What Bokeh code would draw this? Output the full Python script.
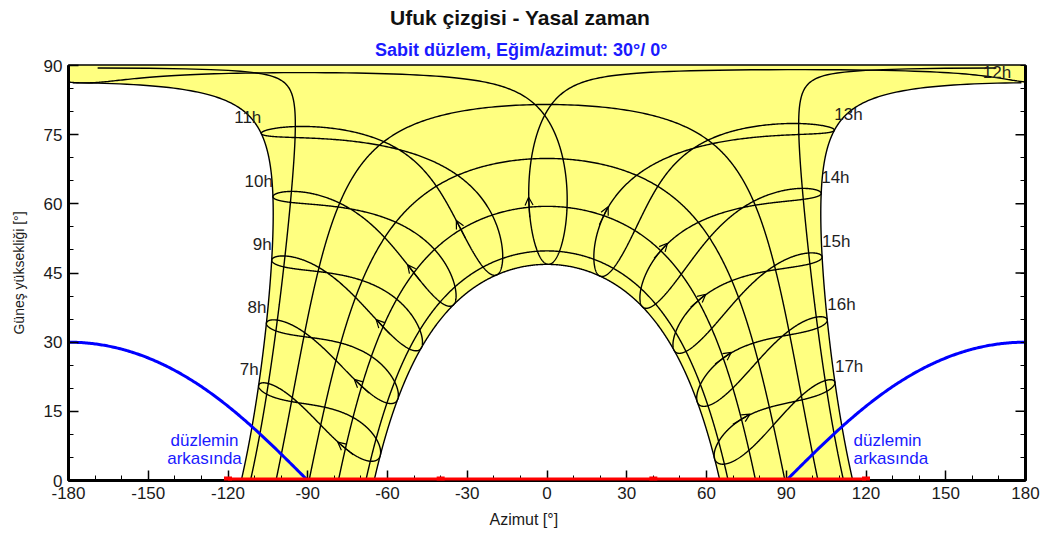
import numpy as np
from bokeh.plotting import figure
from bokeh.models import (Range1d, LinearAxis, FixedTicker, Label, Arrow, OpenHead,
                          ColumnDataSource, BoxAnnotation, Title)
from bokeh.embed import file_html
from bokeh.resources import INLINE

# Site and collector plane
LATITUDE = 19.7          # deg N
PLANE_TILT = 30.0        # deg
PLANE_AZIMUTH = 0.0      # deg, 0 = south

# Sun-path dates (day of year): 22 Jun, 22 May, 20 Apr, 20 Mar, 21 Feb, 19 Jan, 22 Dec
PATH_DAYS = [173, 142, 110, 79, 52, 19, 356]
SUMMER_DAY = 173
WINTER_DAY = 356
ARROW_DAY = 52

# Legal-time hour lines
HOURS = [7, 8, 9, 10, 11, 12, 13, 14, 15, 16, 17]
HOUR_LABELS = ["7h", "8h", "9h", "10h", "11h", "12h", "13h", "14h", "15h", "16h", "17h"]

# Far horizon profile
HORIZON_AZ = [-120, -40, 40, 120]
HORIZON_EL = [0, 0, 0, 0]

X_TICKS = [-180, -150, -120, -90, -60, -30, 0, 30, 60, 90, 120, 150, 180]
X_MINOR = list(range(-180, 181, 10))
Y_TICKS = [0, 15, 30, 45, 60, 75, 90]
Y_MINOR = list(range(0, 91, 5))

TITLE = "Ufuk çizgisi - Yasal zaman"
SUBTITLE = "Sabit düzlem, Eğim/azimut: 30°/ 0°"
X_LABEL = "Azimut [°]"
Y_LABEL = "Güneş yüksekliği [°]"
BEHIND_NOTE = ["düzlemin", "arkasında"]

W, H = 1051, 534
FL, FR, FT, FB = 68, 1025, 65, 480
X0, X1, Y0, Y1 = -180.0, 180.0, 0.0, 90.0

FONT = "Liberation Sans"
YELLOW = "#FFFF80"


def px_to_az(px):
    return X0 + (px - FL) / (FR - FL) * (X1 - X0)


def py_to_el(py):
    return Y1 - (py - FT) / (FB - FT) * (Y1 - Y0)


def _b(day):
    return 2 * np.pi * (np.asarray(day, dtype=float) - 1) / 365.0


def declination(day):
    b = _b(day)
    return np.degrees(0.006918 - 0.399912 * np.cos(b) + 0.070257 * np.sin(b)
                      - 0.006758 * np.cos(2 * b) + 0.000907 * np.sin(2 * b)
                      - 0.002697 * np.cos(3 * b) + 0.00148 * np.sin(3 * b))


def equation_of_time(day):
    b = _b(day)
    return 229.18 * (0.000075 + 0.001868 * np.cos(b) - 0.032077 * np.sin(b)
                     - 0.014615 * np.cos(2 * b) - 0.040849 * np.sin(2 * b))


def sun_position(dec, ha):
    phi = np.radians(LATITUDE)
    d = np.radians(dec)
    w = np.radians(ha)
    el = np.degrees(np.arcsin(np.sin(phi) * np.sin(d) + np.cos(phi) * np.cos(d) * np.cos(w)))
    az = np.degrees(np.arctan2(np.sin(w) * np.cos(d),
                               np.cos(w) * np.cos(d) * np.sin(phi) - np.sin(d) * np.cos(phi)))
    return az, el


def half_day(dec):
    phi = np.radians(LATITUDE)
    d = np.radians(dec)
    return np.degrees(np.arccos(np.clip(-np.tan(phi) * np.tan(d), -1, 1)))


def legal_position(day, hour):
    solar = hour + equation_of_time(day) / 60.0
    return sun_position(declination(day), 15.0 * (solar - 12.0))


def split_runs(az, el):
    """Pieces above the horizon, broken where the azimuth wraps at +/-180."""
    xs, ys, cx, cy = [], [], [], []

    def flush():
        if len(cx) > 1:
            xs.append(list(cx))
            ys.append(list(cy))
        cx.clear()
        cy.clear()

    for a, e in zip(az, el):
        if e < 0:
            flush()
            continue
        if cx and abs(a - cx[-1]) > 180:
            flush()
        cx.append(float(a))
        cy.append(float(e))
    flush()
    return xs, ys


def text_width(txt, size, bold=False):
    """Approximate advance width (Arial metrics) of a string, in px."""
    narrow = set("iljı'!|.,:;")
    mid = set("frt-/[]° ")
    wide = set("mwMW")
    w = 0.0
    for ch in txt:
        if ch in narrow:
            w += 0.25 if not bold else 0.28
        elif ch in mid:
            w += 0.32
        elif ch in wide:
            w += 0.86
        elif ch.isupper():
            w += 0.69
        else:
            w += 0.55 if not bold else 0.59
    return w * size


# --- sun-position envelope (between the solstice paths) ---
dec_s = float(declination(SUMMER_DAY))
dec_w = float(declination(WINTER_DAY))
h0s = half_day(dec_s)
az_m, el_m = sun_position(dec_s, np.linspace(-h0s, -1e-6, 400))
noon_el = float(sun_position(dec_s, 0.0)[1])
h0w = half_day(dec_w)
az_w, el_w = sun_position(dec_w, np.linspace(h0w, -h0w, 400))
env_x = list(az_m) + [X0, X0, X1, X1] + list(-az_m[::-1]) + list(az_w)
env_y = list(el_m) + [noon_el, Y1, Y1, noon_el] + list(el_m[::-1]) + list(el_w)

# --- daily sun paths ---
path_xs, path_ys = [], []
for day in PATH_DAYS:
    dec = float(declination(day))
    h0 = half_day(dec)
    a, e = sun_position(dec, np.linspace(-h0, h0, 900))
    e = np.maximum(e, 0.0)
    sx, sy = split_runs(a, e)
    path_xs += sx
    path_ys += sy

# --- hour lines (analemmas, legal time) ---
days = np.append(np.arange(1, 366, 0.5), 1.0)
hour_xs, hour_ys = [], []
for hr in HOURS:
    a, e = legal_position(days, hr)
    sx, sy = split_runs(a, e)
    hour_xs += sx
    hour_ys += sy

# --- limit where the sun passes behind the plane ---
back_left = np.linspace(-180, -90, 181)
back_right = np.linspace(90, 180, 181)


def behind_plane(az):
    return np.degrees(np.arctan(-np.tan(np.radians(PLANE_TILT)) *
                                np.cos(np.radians(az - PLANE_AZIMUTH))))


p = figure(width=W, height=H, x_range=Range1d(X0, X1), y_range=Range1d(Y0, Y1),
           output_backend="svg", toolbar_location=None,
           min_border_left=FL, min_border_right=W - FR,
           min_border_top=FT, min_border_bottom=H - FB)
p.grid.visible = False
p.outline_line_color = "black"
p.outline_line_width = 2.5
p.background_fill_color = "white"
p.border_fill_color = "white"

# right-hand frame ticks: only the minor ticker, so no labels are produced there
p.add_layout(LinearAxis(ticker=FixedTicker(ticks=[], minor_ticks=Y_MINOR)), "right")

p.xaxis.ticker = FixedTicker(ticks=X_TICKS, minor_ticks=X_MINOR)
p.xaxis.major_label_overrides = {t: str(t) for t in X_TICKS}
left_axis = p.left[0]
left_axis.ticker = FixedTicker(ticks=Y_TICKS, minor_ticks=Y_MINOR)
left_axis.major_label_overrides = {t: str(t) for t in Y_TICKS}

for ax in list(p.xaxis) + list(p.yaxis):
    ax.axis_line_width = 3
    ax.axis_line_color = "black"
    ax.major_tick_in = 10
    ax.major_tick_out = 0
    ax.minor_tick_in = 5
    ax.minor_tick_out = 0
    ax.major_tick_line_width = 1.5
    ax.minor_tick_line_width = 1
    ax.major_label_text_font = FONT
    ax.major_label_text_font_size = "17px"
    ax.major_label_text_color = "#1a1a1a"
    ax.major_label_standoff = 6

# longer marks at the labelled elevations on the right edge
right_major = ColumnDataSource(dict(x0=[X1 - 10 / ((FR - FL) / (X1 - X0))] * len(Y_TICKS),
                                    x1=[X1] * len(Y_TICKS), y=Y_TICKS))
p.segment(x0="x0", y0="y", x1="x1", y1="y", source=right_major,
          line_color="black", line_width=1.5)

left_axis.axis_label = Y_LABEL
left_axis.axis_label_text_font = FONT
left_axis.axis_label_text_font_size = "14px"
left_axis.axis_label_text_font_style = "normal"
left_axis.axis_label_text_color = "#1a1a1a"
left_axis.axis_label_standoff = 14

# titles: placed by their left edge so they centre on the whole canvas
sub = Title(text=SUBTITLE, align="left", text_font=FONT, text_font_size="18px",
            text_font_style="bold", text_color="#1a1aff", standoff=12,
            offset=523 - text_width(SUBTITLE, 18, True) / 2 - FL)
p.add_layout(sub, "above")
ttl = Title(text=TITLE, align="left", text_font=FONT, text_font_size="21px",
            text_font_style="bold", text_color="#111111", standoff=6,
            offset=525.5 - text_width(TITLE, 21, True) / 2 - FL)
p.add_layout(ttl, "above")
xcap = Title(text=X_LABEL, align="left", text_font=FONT, text_font_size="16px",
             text_font_style="normal", text_color="#1a1a1a", standoff=14,
             offset=525 - text_width(X_LABEL, 16) / 2 - FL)
p.add_layout(xcap, "below")

p.patch(env_x, env_y, fill_color=YELLOW, line_color=None)
p.multi_line(path_xs, path_ys, line_color="black", line_width=1.4)
p.multi_line(hour_xs, hour_ys, line_color="black", line_width=1.4)

p.line(back_left, behind_plane(back_left), line_color="#0000FF", line_width=3)
p.line(back_right, behind_plane(back_right), line_color="#0000FF", line_width=3)

# direction arrows on the hour lines
sxp = (FR - FL) / (X1 - X0)
syp = (FB - FT) / (Y1 - Y0)
arr = dict(x_start=[], y_start=[], x_end=[], y_end=[])
for hr in HOURS:
    a0, e0 = legal_position(ARROW_DAY, hr)
    a1, e1 = legal_position(ARROW_DAY + 2, hr)
    dx, dy = (a1 - a0) * sxp, (e1 - e0) * syp
    n = np.hypot(dx, dy)
    ux, uy = dx / n, dy / n
    half = 10.0
    arr["x_start"].append(float(a0 - half * ux / sxp))
    arr["y_start"].append(float(e0 - half * uy / syp))
    arr["x_end"].append(float(a0 + half * ux / sxp))
    arr["y_end"].append(float(e0 + half * uy / syp))
p.add_layout(Arrow(source=ColumnDataSource(arr), x_start="x_start", y_start="y_start",
                   x_end="x_end", y_end="y_end", line_color="black", line_width=1.2,
                   end=OpenHead(size=8, line_color="black", line_width=1.2)))

# horizon profile
hz = ColumnDataSource(dict(x0=HORIZON_AZ[:-1], y0=HORIZON_EL[:-1],
                           x1=HORIZON_AZ[1:], y1=HORIZON_EL[1:]))
p.add_layout(Arrow(source=hz, x_start="x0", y_start="y0", x_end="x1", y_end="y1",
                   line_color="#FF0000", line_width=6, start=None, end=None))
for a, e in zip(HORIZON_AZ, HORIZON_EL):
    p.add_layout(BoxAnnotation(left=a - 4 / sxp, right=a + 4 / sxp,
                               bottom=e - 4 / syp, top=e + 4 / syp,
                               fill_color="#FF0000", fill_alpha=1, line_color=None))

# hour labels at the summer-solstice end of each hour line
for hr, txt in zip(HOURS, HOUR_LABELS):
    a, e = legal_position(SUMMER_DAY, hr)
    a, e = float(a), float(e)
    if hr < 12:
        align, x, y = "right", a, e + 3.4
    elif hr > 12:
        align, x, y = "left", a, e + 3.4
    else:
        align, x, y = "right", abs(a), e + 2.3
    p.add_layout(Label(x=x, y=y, text=txt, text_align=align, text_baseline="middle",
                       text_font=FONT, text_font_size="17px", text_color="#1e1e1e"))

# "behind the plane" notes
for txt, py in zip(BEHIND_NOTE, (440, 458)):
    p.add_layout(Label(x=px_to_az(204), y=py_to_el(py), text=txt, text_align="center",
                       text_baseline="middle", text_font=FONT, text_font_size="17px",
                       text_color="#1a1aff"))
    p.add_layout(Label(x=px_to_az(853), y=py_to_el(py), text=txt, text_align="left",
                       text_baseline="middle", text_font=FONT, text_font_size="17px",
                       text_color="#1a1aff"))

open("out.html", "w").write(file_html(p, INLINE))
